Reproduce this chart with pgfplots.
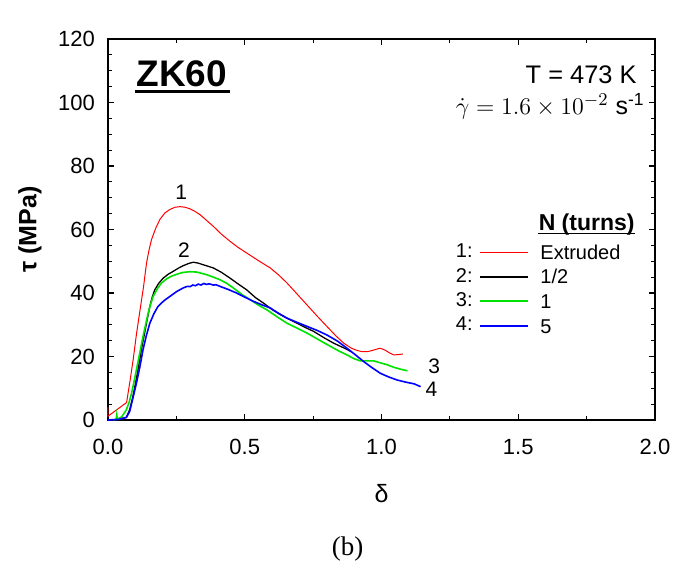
\documentclass[border=0pt]{standalone}
\usepackage{fontspec}
\setmainfont{Liberation Sans}
\newfontfamily\serifb{Liberation Serif}
\usepackage{pgfplots}
\pgfplotsset{compat=1.18}
\definecolor{cred}{RGB}{255,0,0}
\definecolor{cgreen}{RGB}{0,225,0}
\definecolor{cblue}{RGB}{0,0,255}
\begin{document}
\begin{tikzpicture}
\useasboundingbox (-54pt,-73.5pt) rectangle (289pt,210pt);
\begin{axis}[
 at={(0,0)}, anchor=south west,
 scale only axis, width=273.5pt, height=190.5pt,
 xmin=0, xmax=2, ymin=0, ymax=120,
 xtick={0,0.5,1,1.5,2}, ytick={0,20,...,120},
 minor x tick num=1, minor y tick num=3,
 tick align=inside, tick pos=both, xticklabel pos=lower, yticklabel pos=left,
 major tick length=3pt, minor tick length=2.2pt,
 every tick/.style={black, line width=0.6pt},
 axis line style={line width=0.75pt},
 no markers, clip=false,
 /pgf/number format/assume math mode=true,
 x tick label style={/pgf/number format/.cd, fixed, fixed zerofill, precision=1, /tikz/.cd},
 ticklabel style={font=\fontsize{11}{13}\selectfont},
 xticklabel shift=6pt, yticklabel shift=3pt,
 xlabel={δ}, ylabel={\bfseries τ (MPa)},
 every axis x label/.style={at={(axis description cs:0.5,-0.194)}, anchor=center, font=\fontsize{12.5}{14}\selectfont},
 every axis y label/.style={at={(axis description cs:-0.1426,0.5)}, rotate=90, anchor=center, font=\fontsize{12.5}{14}\selectfont},
]
% 1: Extruded
\addplot[cred, line width=0.5pt] coordinates {
(0,4.0) (0,1.2) (0.068,5.5) (0.08,12) (0.092,19) (0.104,27) (0.116,34) (0.13,42)
(0.141,49.5) (0.15,53.5) (0.159,56.8) (0.175,60.5) (0.19,63.2) (0.208,65.2) (0.226,66.3)
(0.245,67.0) (0.263,67.2) (0.282,67.0) (0.3,66.5) (0.318,65.7) (0.336,64.7) (0.36,62.9)
(0.385,61) (0.415,58.5) (0.446,56.3) (0.475,54.4) (0.507,52.6) (0.55,50.2) (0.593,47.9)
(0.625,45.6) (0.654,43.2) (0.69,39.8) (0.727,36.3) (0.765,32.7) (0.8,29.5) (0.832,26.6)
(0.862,24.2) (0.89,22.6) (0.911,21.9) (0.93,21.5) (0.947,21.5) (0.962,21.8) (0.978,22.2)
(0.994,22.6) (1.005,22.3) (1.015,21.9) (1.03,21.1) (1.045,20.5) (1.062,20.6) (1.078,20.8)
};
% 2: 1/2
\addplot[black, line width=0.65pt] coordinates {
(0.02,0) (0.067,0.8) (0.079,3.2) (0.09,7) (0.098,10.5) (0.108,15) (0.116,19) (0.125,23.5)
(0.134,27.4) (0.143,31.5) (0.153,35.8) (0.162,38.8) (0.171,41) (0.185,43) (0.202,44.7)
(0.22,45.9) (0.238,46.8) (0.257,47.8) (0.275,48.6) (0.295,49.3) (0.312,49.7) (0.33,49.4)
(0.348,48.9) (0.385,47.9) (0.415,46.5) (0.446,44.7) (0.475,42.9) (0.507,41) (0.54,38.5)
(0.569,36.8) (0.6,34.8) (0.63,33.2) (0.66,31.8) (0.691,30.5) (0.72,29.2) (0.752,27.9)
(0.79,25.9) (0.825,24.2) (0.86,22.8) (0.89,21.5)
};
% 3: 1
\addplot[cgreen, line width=0.8pt] coordinates {
(0.02,0) (0.03,0.3) (0.032,1.6) (0.034,0.3) (0.05,1) (0.067,3.2) (0.077,5.5) (0.086,8.4)
(0.095,12) (0.104,15.8) (0.116,21) (0.128,26.3) (0.138,30.2) (0.147,33.7) (0.156,36.5)
(0.165,38.9) (0.18,41.3) (0.196,43.2) (0.215,44.5) (0.232,45.3) (0.255,46) (0.275,46.5)
(0.3,46.7) (0.324,46.6) (0.36,45.8) (0.385,45) (0.409,44.2) (0.435,43) (0.458,41.6)
(0.49,39.5) (0.52,37.9) (0.55,36.2) (0.581,34.7) (0.62,32.4) (0.654,30.5) (0.69,29)
(0.727,27.4) (0.77,25.3) (0.813,23.2) (0.845,21.7) (0.874,20.5) (0.9,19.3) (0.923,18.6)
(0.95,18.6) (0.972,18.6) (1.0,17.9) (1.021,17.4) (1.045,16.6) (1.07,16) (1.095,15.5)
};
% 4: 5
\addplot[cblue, line width=0.8pt] coordinates {
(0,0) (0.04,0.2) (0.067,0.8) (0.079,2.6) (0.09,6.5) (0.104,11.6) (0.116,16.5) (0.128,22.1)
(0.14,26.5) (0.153,30.5) (0.168,33.5) (0.183,35.8) (0.205,37.6) (0.226,38.9) (0.25,40.4)
(0.275,41.6) (0.29,42.1) (0.3,42.0) (0.31,42.5) (0.32,42.3) (0.33,42.8) (0.34,42.5)
(0.35,43.0) (0.36,42.7) (0.37,42.9) (0.385,42.5) (0.395,42.6) (0.409,42.1) (0.44,41.1)
(0.47,40) (0.5,38.7) (0.531,37.4) (0.562,36.3) (0.593,35.3) (0.62,33.8) (0.654,32.1)
(0.69,30.8) (0.727,29.5) (0.765,28.2) (0.8,26.8) (0.84,24.8) (0.874,22.6) (0.905,20.5)
(0.935,18.4) (0.965,16.5) (0.996,14.7) (1.025,13.6) (1.057,12.6) (1.09,11.9) (1.119,11.4)
(1.143,10.5)
};
% curve numbers
\node[font=\fontsize{10.5}{12}\selectfont] at (axis cs:0.268,71.6) {1};
\node[font=\fontsize{10.5}{12}\selectfont] at (axis cs:0.278,53.5) {2};
\node[font=\fontsize{10.5}{12}\selectfont] at (axis cs:1.193,16.8) {3};
\node[font=\fontsize{10.5}{12}\selectfont] at (axis cs:1.183,9.8) {4};
% title texts
\node[anchor=base west, inner sep=0, font=\fontsize{18.5}{20}\selectfont\bfseries] (zk) at (axis description cs:0.0512,0.875) {ZK60};
\draw[line width=1.5pt] ([yshift=-2.4pt,xshift=-0.5pt]zk.base west) -- ([yshift=-2.4pt, xshift=1.5pt]zk.base east);
\node[anchor=base east, inner sep=0, font=\fontsize{12.7}{14}\selectfont] at (axis description cs:0.967,0.8845) {T = 473 K};
\node[anchor=base east, inner sep=0, font=\fontsize{12.5}{13}\selectfont] at (axis description cs:0.9817,0.803) {\smash{$\dot{\gamma} = 1.6 \times 10^{-2}$ s\textsuperscript{-1}}};
% legend
\node[anchor=base east, inner sep=0, font=\fontsize{11.5}{13}\selectfont\bfseries] (nt) at (axis description cs:0.9634,0.4969) {N (turns)};
\draw[line width=0.7pt] ([yshift=-1.3pt]nt.base west) -- ([yshift=-1.3pt]nt.base east);
\node[anchor=base east, inner sep=0, font=\fontsize{10}{12}\selectfont] at (axis description cs:0.6673,0.4252) {1:};
\node[anchor=base east, inner sep=0, font=\fontsize{10}{12}\selectfont] at (axis description cs:0.6673,0.3614) {2:};
\node[anchor=base east, inner sep=0, font=\fontsize{10}{12}\selectfont] at (axis description cs:0.6673,0.2976) {3:};
\node[anchor=base east, inner sep=0, font=\fontsize{10}{12}\selectfont] at (axis description cs:0.6673,0.2338) {4:};
\draw[cred, line width=0.5pt] (axis description cs:0.680,0.4402) -- (axis description cs:0.768,0.4402);
\draw[black, line width=0.65pt] (axis description cs:0.680,0.3756) -- (axis description cs:0.768,0.3756);
\draw[cgreen, line width=0.9pt] (axis description cs:0.680,0.3125) -- (axis description cs:0.768,0.3125);
\draw[cblue, line width=0.6pt] (axis description cs:0.680,0.2465) -- (axis description cs:0.768,0.2465);
\node[anchor=base west, inner sep=0, font=\fontsize{10}{12}\selectfont] at (axis description cs:0.7898,0.4218) {Extruded};
\node[anchor=base west, inner sep=0, font=\fontsize{10}{12}\selectfont] at (axis description cs:0.7898,0.3570) {1/2};
\node[anchor=base west, inner sep=0, font=\fontsize{10}{12}\selectfont] at (axis description cs:0.7898,0.2921) {1};
\node[anchor=base west, inner sep=0, font=\fontsize{10}{12}\selectfont] at (axis description cs:0.7898,0.2273) {5};
\node[font=\fontsize{13.5}{15}\serifb] at (axis description cs:0.438,-0.3386) {(b)};
\end{axis}
\end{tikzpicture}
\end{document}
